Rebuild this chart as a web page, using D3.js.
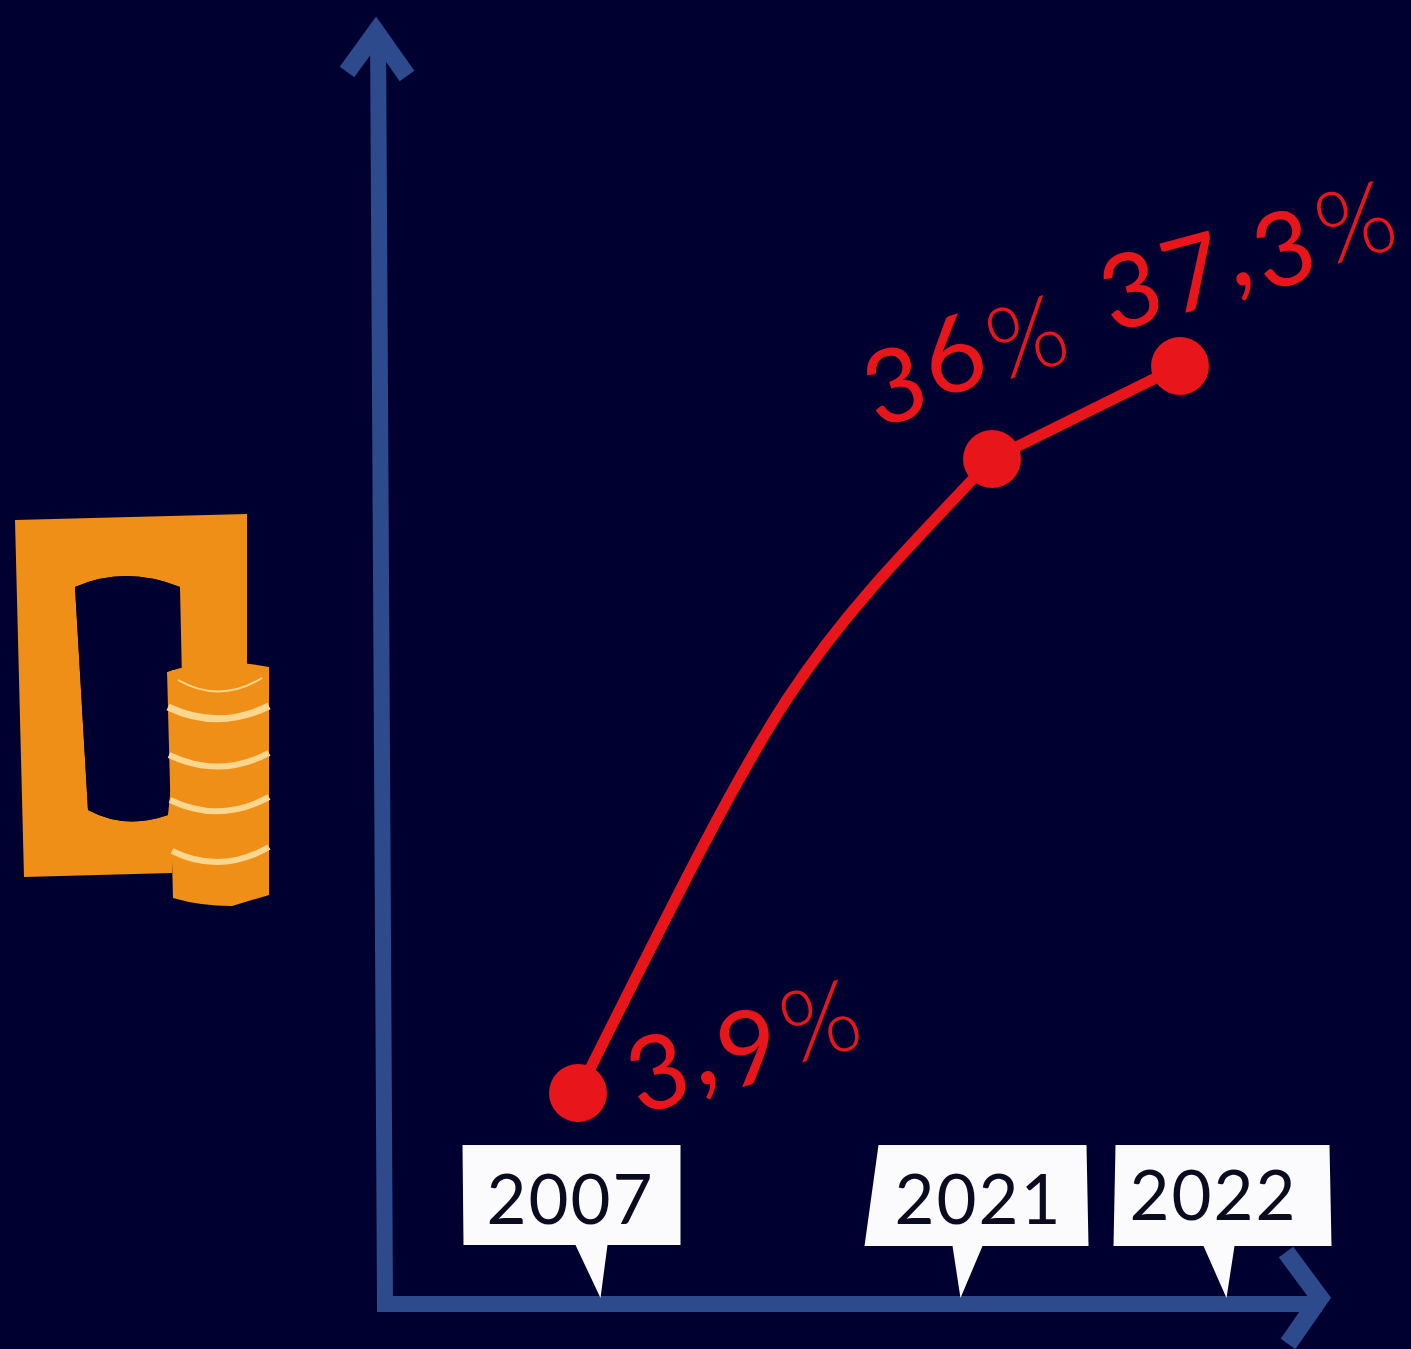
<!DOCTYPE html>
<html>
<head>
<meta charset="utf-8">
<script src="https://cdn.jsdelivr.net/npm/d3@7"></script>
<style>
  html, body { margin: 0; padding: 0; background: #000030; }
  svg { display: block; }
  .val { font-variant-numeric: oldstyle-nums; }
</style>
</head>
<body>
<div id="chart"></div>
<script>
const years = [2007, 2021, 2022];
const shares = [3.9, 36, 37.3];
const shareLabels = ["3,9", "36", "37,3"];

const width = 1411, height = 1349;
const red = "#e8151b", blue = "#2c4a8c", orange = "#f08f17", cream = "#fbd68e";

const svg = d3.select("#chart").append("svg")
  .attr("width", width).attr("height", height)
  .attr("viewBox", [0, 0, width, height]);

svg.append("rect").attr("width", width).attr("height", height).attr("fill", "#000030");

// the picture isn't to scale, so both scales are piecewise
const x = d3.scaleLinear().domain(years).range([578, 992, 1180]);
const y = d3.scaleLinear().domain(shares).range([1093, 459, 366]);
const tickX = d3.scaleLinear().domain(years).range([600, 960, 1226]);

// axes arrows
const axisColor = svg.append("g").attr("fill", "none").attr("stroke", blue)
  .attr("stroke-linejoin", "miter");
axisColor.append("path").attr("d", "M378 30L385 1304L1322 1304").attr("stroke-width", 16);
axisColor.append("path").attr("d", "M347 72L376 32L407 76").attr("stroke-width", 18);
axisColor.append("path").attr("d", "M1286 1252L1320 1298L1288 1344").attr("stroke-width", 18);

// year callouts, hung on the ticks of the axis
const boxes = {
  2007: { pts: [[462,1145],[680,1145],[680,1245],[607,1245],[600,1298],[575,1245],[463,1245]], tx: 570, ty: 1224 },
  2021: { pts: [[878,1145],[1086,1145],[1088,1246],[982,1246],[960,1298],[952,1246],[864,1246]], tx: 978, ty: 1224 },
  2022: { pts: [[1115,1145],[1329,1145],[1331,1246],[1234,1246],[1226,1298],[1203,1246],[1113,1246]], tx: 1213, ty: 1220 }
};

const xAxis = svg.append("g")
  .attr("transform", "translate(0 1304)")
  .call(d3.axisBottom(tickX).tickValues(years).tickFormat(d3.format("d")).tickSize(0));
xAxis.select(".domain").remove();
xAxis.selectAll(".tick").each(function(d) {
  const tick = d3.select(this), b = boxes[d], tip = tickX(d);
  tick.insert("polygon", "text")
    .attr("points", b.pts.map(p => [p[0] - tip, p[1] - 1304].join(",")).join(" "))
    .attr("fill", "#fbfbfd");
  tick.select("text")
    .attr("x", b.tx - tip).attr("y", b.ty - 1304).attr("dy", null)
    .attr("text-anchor", "middle")
    .attr("fill", "#0b0b20")
    .attr("font-family", "Lato").attr("font-size", 69)
    .attr("letter-spacing", 2);
});

// line: the first stretch bends, its control point is where the end tangents cross
const pts = years.map((d, i) => [x(d), y(shares[i])]);
const startSlope = 2, endSlope = 1.05;
const run = (pts[0][1] - pts[1][1] - endSlope * (pts[1][0] - pts[0][0])) / (startSlope - endSlope);
const cx = pts[0][0] + run, cy = pts[0][1] - startSlope * run;

const path = d3.path();
path.moveTo(pts[0][0], pts[0][1]);
path.bezierCurveTo(cx, cy, cx, cy, pts[1][0], pts[1][1]);
path.lineTo(pts[2][0], pts[2][1]);
svg.append("path").attr("d", path.toString())
  .attr("fill", "none").attr("stroke", red).attr("stroke-width", 11);

svg.selectAll("circle.pt").data(years).enter().append("circle")
  .attr("class", "pt")
  .attr("cx", d => x(d))
  .attr("cy", (d, i) => y(shares[i]))
  .attr("r", 29)
  .attr("fill", red);

// value labels, the % sign is thinner than the digits
const labelPos = [
  { dx: 57, dy: 11, rot: -15 },
  { dx: -119, dy: -41, rot: -17 },
  { dx: -72, dy: -44, rot: -15 }
];
const vals = svg.selectAll("text.val").data(shareLabels).enter().append("text")
  .attr("class", "val")
  .attr("transform", (d, i) => `translate(${x(years[i]) + labelPos[i].dx} ${y(shares[i]) + labelPos[i].dy}) rotate(${labelPos[i].rot})`)
  .attr("fill", red)
  .attr("font-family", "Lato").attr("font-size", 112);
vals.append("tspan").attr("letter-spacing", 4).text(d => d);
vals.append("tspan").attr("font-size", 100).attr("font-weight", 300).attr("dx", 3).attr("dy", 3).text("%");

// icon on the left
const icon = svg.append("g");
icon.append("path")
  .attr("fill-rule", "evenodd").attr("fill", orange)
  .attr("d", "M15 520L247 514L247 670L172 670L172 873L24 877Z M75 587Q125 565 180 587L182 680L168 815Q125 830 88 810Z");
icon.append("path").attr("fill", orange)
  .attr("d", "M167 672Q215 656 269 667L269 895L232 906Q200 906 173 898Z");
icon.append("path").attr("fill", "#000030")
  .attr("d", "M75 587Q125 565 180 587L180 665L167 672L168 815Q125 830 88 810Z");
const bands = icon.append("g").attr("fill", "none").attr("stroke", cream);
bands.selectAll("path").data([[168, 707, 269, 706, 7], [169, 755, 269, 753, 6], [170, 800, 269, 797, 6], [172, 851, 269, 847, 6], [178, 680, 262, 678, 2]])
  .enter().append("path")
  .attr("stroke-width", d => d[4])
  .attr("d", d => `M${d[0]} ${d[1]}Q${(d[0] + d[2]) / 2} ${d[1] + 24} ${d[2]} ${d[3]}`);
</script>
</body>
</html>
